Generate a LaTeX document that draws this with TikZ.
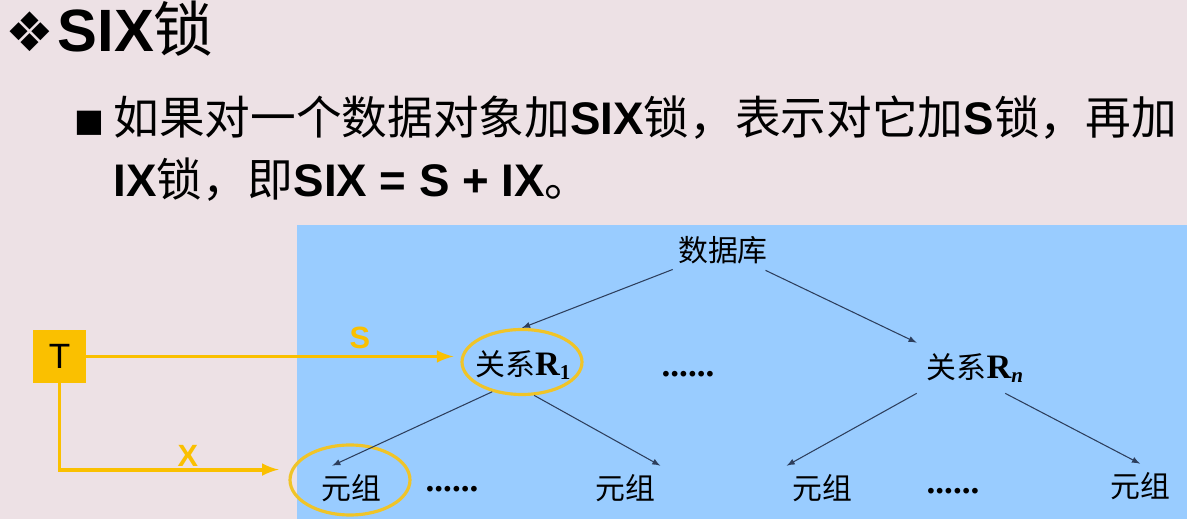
\documentclass[tikz,border=0pt]{standalone}
\usepackage{fontspec}
\setmainfont{Liberation Sans}
\newfontfamily\zh{Noto Sans CJK SC}
\newfontfamily\sym{DejaVu Sans}
\newfontfamily\tms{Liberation Serif}
\usetikzlibrary{shapes.geometric}
\definecolor{slidepink}{RGB}{237,225,229}
\definecolor{treeblue}{RGB}{153,204,255}
\definecolor{lockgold}{RGB}{250,192,0}
\definecolor{ringgold}{RGB}{240,196,40}
\definecolor{edgeink}{RGB}{45,62,92}
\newcommand{\relname}[1]{{\tms\bfseries\fontsize{19.5}{22}\selectfont R\raisebox{-0.3ex}{\fontsize{12}{14}\selectfont #1}}}

\begin{document}
\begin{tikzpicture}[x=0.02cm, y=-0.02cm,
    treenode/.style={inner sep=0pt, font=\fontsize{17}{20}\selectfont\zh},
    tuple/.style={treenode, minimum width=1.4cm, minimum height=0.88cm},
    ring/.style={ellipse, draw=ringgold, line width=1.8pt, inner sep=0pt},
    dots/.style={inner sep=0pt, font=\fontsize{20}{24}\selectfont\tms\bfseries},
    treeedge/.style={draw=edgeink, line width=0.6pt, -latex},
    lockarrow/.style={draw=lockgold, line width=2.2pt, -latex}]

    \useasboundingbox (0,0) rectangle (1187,519);
    \fill[slidepink] (0,0) rectangle (1187,519);
    \fill[treeblue] (297,225) rectangle (1187,519);

    % Heading and text
    \node[anchor=base west, inner sep=0pt, font=\fontsize{34}{38}\selectfont] (title) at (5,52)
        {{\sym\fontsize{31}{36}\selectfont ❖}\kern2pt\textbf{SIX}{\zh 锁}};
    \node[anchor=base west, inner sep=0pt, font=\sym\fontsize{18}{22}\selectfont] (bullet) at (74,132) {■};
    \node[anchor=base west, inner sep=0pt, font=\fontsize{26}{31}\selectfont] (line1) at (113,135)
        {{\zh 如果对一个数据对象加}\textbf{SIX}{\zh 锁，表示对它加}\textbf{S}{\zh 锁，再加}};
    \node[anchor=base west, inner sep=0pt, font=\fontsize{26}{31}\selectfont] (line2) at (113,197)
        {\textbf{IX}{\zh 锁，即}\textbf{SIX = S + IX}{\zh 。}};

    % Root node
    \node[treenode, minimum width=2cm, minimum height=0.8cm] (db) at (723,250) {数据库};
    % Relations
    \node[treenode] (r1) at (523,365) {关系\relname{1}};
    \node[ring, minimum width=2.4cm, minimum height=1.3cm] (hs) at (522,362) {};
    \node[dots] (mid) at (688,374) {......};
    \node[treenode, minimum width=2.32cm, minimum height=1cm] (rn) at (975,368) {关系\relname{\itshape n}};
    % Tuples
    \node[tuple] (t1) at (351,488) {元组};
    \node[ring, minimum width=2.4cm, minimum height=1.4cm] (hx) at (350,480) {};
    \node[dots] (dl) at (452,489) {......};
    \node[tuple] (t2) at (625,488) {元组};
    \node[tuple] (t3) at (822,488) {元组};
    \node[dots] (dr) at (953,491) {......};
    \node[tuple] (t4) at (1140,486) {元组};

    \draw[treeedge] (db) -- (hs.north);
    \draw[treeedge] (db) -- (rn.north west);
    \draw[treeedge] (hs.-135) -- (t1.130);
    \draw[treeedge] (hs.-70) -- (t2.north east);
    \draw[treeedge] (rn.south west) -- (t3.north west);
    \draw[treeedge] (rn.-40) -- (t4.north);

    % Transaction and its locks
    \node[fill=lockgold, minimum size=1.06cm, inner sep=0pt, font=\fontsize{20}{24}\selectfont] (tx) at (59.5,356.5) {T};
    \draw[lockarrow, shorten >=4pt] (tx.east) -- (tx.east -| hs.west);
    \draw[lockarrow, shorten >=7pt] (tx.south) |- (hx.170);
    \node[text=lockgold, font=\bfseries\fontsize{17.5}{20}\selectfont] (slabel) at (360,338) {S};
    \node[text=lockgold, font=\bfseries\fontsize{17.5}{20}\selectfont] (xlabel) at (188,456) {X};
\end{tikzpicture}
\end{document}
